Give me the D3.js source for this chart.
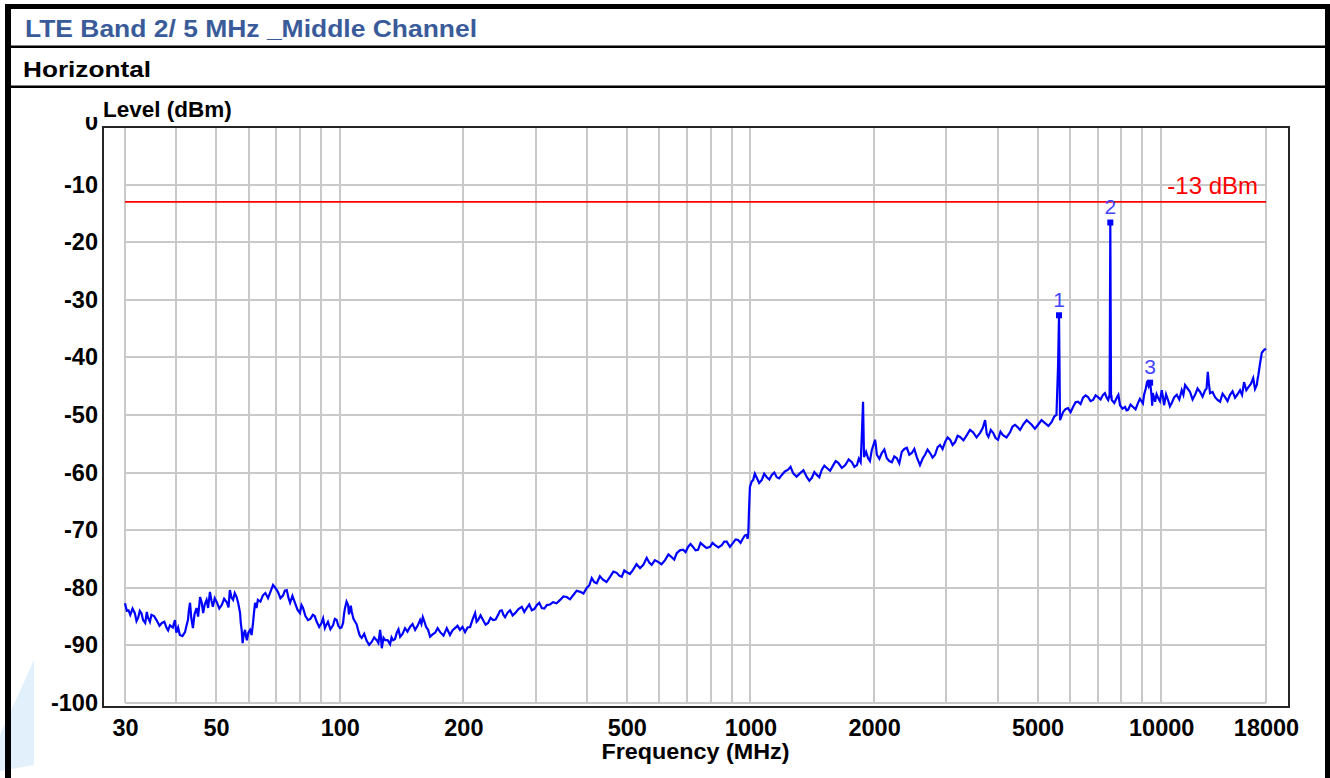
<!DOCTYPE html>
<html>
<head>
<meta charset="utf-8">
<script src="https://cdn.jsdelivr.net/npm/d3@7"></script>
<style>
  body { margin: 0; background: #fff; }
  svg { display: block; }
  text { font-family: "Liberation Sans", Arial, sans-serif; }
</style>
</head>
<body>
<svg id="chart" width="1330" height="778"></svg>
<script>
// header texts
const titleText = 'LTE Band 2/ 5 MHz _Middle Channel';
const subtitleText = 'Horizontal';
const yTitle = 'Level (dBm)';
const xTitle = 'Frequency (MHz)';

// axes
const xTickValues = [30, 50, 100, 200, 500, 1000, 2000, 5000, 10000, 18000];
const xGridValues = [30, 40, 50, 60, 70, 80, 90, 100, 200, 300, 400, 500, 600, 700, 800, 900,
  1000, 2000, 3000, 4000, 5000, 6000, 7000, 8000, 9000, 10000, 18000];
const yTickValues = [0, -10, -20, -30, -40, -50, -60, -70, -80, -90, -100];

// limit line
const limitLevel = -13;
const limitLabel = '-13 dBm';

// markers (harmonics)
const markerFreq = [5640, 7520, 9400];
const markerLevel = [-32.6, -16.5, -44.3];
const markerName = ['1', '2', '3'];

// trace, [MHz, dBm]
const traceLow = [
  [30, -82.7], [30.6, -83.9], [30.9, -84.7], [31.7, -84.4], [32.3, -85.2], [32.9, -84.4], [33.6, -86.1],
  [34.1, -85.1], [34.8, -84.7], [35.8, -85.6], [36.9, -86.1], [37.9, -87.0], [38.6, -86.5], [39.7, -85.6],
  [40.0, -87.8], [40.8, -88.2], [42.0, -87.7], [42.7, -85.6], [43.2, -82.6], [43.9, -87.0], [44.8, -83.5],
  [45.7, -81.6], [46.5, -84.4], [47.4, -82.1], [48.3, -80.7], [49.1, -83.3], [50.2, -82.5], [51.6, -83.0],
  [53.1, -82.5], [54.0, -80.4], [55.0, -82.1], [56.1, -81.6], [57.2, -84.4], [57.7, -87.3], [58.0, -89.6],
  [58.8, -87.3], [59.4, -89.1], [60.5, -87.3], [61.5, -86.1], [62.2, -82.6], [63.2, -82.1], [65.0, -81.3],
  [66.9, -81.8], [68.8, -79.5], [70.7, -80.7], [72.8, -81.3], [74.3, -80.4], [75.7, -82.6], [77.8, -82.6],
  [80.0, -84.4], [81.4, -83.5], [83.7, -85.6], [86.0, -84.7], [87.9, -85.9], [90.3, -86.1], [92.0, -87.0],
  [93.6, -85.9], [96.3, -86.5], [98.3, -85.6]
];
const traceMid = [
  [100.2, -87.0], [101.9, -86.1], [103.0, -83.5], [104.8, -83.0], [105.9, -83.9], [107.0, -84.2],
  [109.0, -85.9], [110.8, -87.3], [113.1, -88.7], [116.3, -89.2], [119.6, -89.4], [123.0, -89.1],
  [125.4, -87.3], [126.6, -90.5], [129.0, -89.1], [132.6, -89.8], [134.9, -89.1], [137.7, -87.8],
  [140.3, -88.5], [144.2, -87.0], [148.3, -86.8], [152.6, -87.3], [156.9, -85.6], [159.3, -85.1],
  [162.3, -86.8], [166.0, -88.5], [170.7, -87.8], [175.6, -87.7], [182.2, -87.0], [185.5, -88.2],
  [190.8, -87.0], [196.2, -87.3], [201.9, -87.7], [207.7, -86.8], [213.6, -84.4], [217.2, -85.6],
  [223.3, -85.6], [229.7, -86.1], [236.2, -85.6], [243.0, -84.7], [248.1, -83.9], [252.7, -85.1],
  [259.9, -83.9], [267.3, -84.4], [277.5, -83.3], [285.4, -83.5], [293.5, -83.9], [301.9, -83.0],
  [310.4, -83.5], [319.3, -83.0], [330.7, -82.5], [344.0, -82.1], [357.1, -81.6], [370.1, -81.3],
  [385.0, -80.7], [399.6, -80.0], [410.7, -78.3], [422.4, -79.2], [437.5, -78.6], [455.1, -78.1],
  [472.5, -77.4], [485.9, -78.1], [500, -77.3], [517.7, -76.9], [538.4, -76.6], [559.0, -74.8],
  [574.9, -76.0], [595.5, -75.5], [619.5, -75.2], [643.2, -74.7], [661.4, -74.0], [685.3, -73.4],
  [704.7, -72.9], [724.8, -72.9], [745.4, -73.4], [766.5, -72.6], [797.3, -72.9], [820, -72.6],
  [851.4, -72.6], [875.5, -72.0], [907, -72.2], [932.9, -71.7], [959.4, -71.4], [979.5, -70.8],
  [988, -70.5], [992, -66.5], [997, -62.5]
];
const traceHigh = [
  [1015, -61.3], [1036, -60.9], [1065, -61.3], [1096, -60.8], [1127, -60.4], [1159, -60.8], [1192, -60.4],
  [1235, -59.5], [1270, -60.1], [1321, -60.1], [1372, -60.8], [1411, -60.9], [1451, -60.4], [1492, -59.5],
  [1535, -59.2], [1591, -58.7], [1636, -58.3], [1702, -58.7], [1766, -58.2], [1817, -58.7], [1855, -58.2],
  [1868, -53.1], [1880, -47.7], [1890, -57.3], [1934, -57.5], [1974, -56.1], [2011, -54.3], [2031, -56.9],
  [2088, -56.6], [2148, -57.5], [2209, -58.2], [2272, -57.5], [2336, -56.4], [2403, -55.7], [2471, -56.6],
  [2541, -57.3], [2587, -58.7], [2661, -56.9], [2737, -56.6], [2815, -56.9], [2895, -55.2], [2978, -54.7],
  [3063, -54.3], [3150, -54.7], [3239, -53.8], [3364, -53.5], [3484, -53.0], [3623, -53.1], [3727, -50.9],
  [3797, -53.8], [3899, -53.1], [4007, -54.3], [4120, -53.5], [4286, -53.0], [4408, -51.7], [4533, -52.6],
  [4706, -50.9], [4840, -51.7], [5014, -51.7], [5215, -51.4], [5414, -51.2], [5560, -50.0], [5610, -41.5],
  [5640, -32.6], [5655, -41.0], [5672, -50.9], [5770, -49.5], [5932, -48.8], [6102, -48.6], [6275, -47.7],
  [6454, -47.0], [6637, -46.9], [6827, -47.4], [7020, -46.9], [7219, -46.5], [7370, -47.0], [7490, -46.5],
  [7505, -32.1], [7520, -16.5], [7535, -32.0], [7550, -47.0], [7580, -47.4], [7796, -47.0], [7941, -48.3],
  [8168, -48.6], [8306, -49.1], [8542, -48.6], [8785, -47.9], [8970, -47.7], [9086, -46.5], [9250, -44.1],
  [9400, -44.3], [9480, -46.8], [9540, -46.2], [9664, -47.7], [9828, -47.0], [10034, -45.7], [10164, -48.3],
  [10394, -47.4], [10612, -47.9], [10914, -46.5], [11223, -45.7], [11434, -44.8], [11759, -46.0],
  [12093, -46.5], [12437, -46.0], [12790, -45.7], [12989, -42.5], [13154, -46.2], [13528, -46.9],
  [13912, -47.7], [14307, -46.9], [14714, -46.5], [15132, -47.0], [15562, -45.7], [15916, -44.3],
  [16327, -45.1], [16753, -43.6], [17096, -44.8], [17244, -43.1], [17413, -41.0], [17581, -39.2],
  [17813, -38.7], [18000, -38.5]
];
// extra sweep points read from the noisy ripple between the points above
const traceRipple = [
  [30.3, -84.0], [31.3, -83.6], [32.0, -85.8], [32.6, -84.0], [33.2, -85.6], [33.9, -84.2], [34.5, -85.9],
  [35.3, -84.9], [36.4, -86.6], [37.4, -85.9], [38.2, -87.4], [39.2, -86.9], [39.9, -87.2], [40.4, -86.9],
  [41.4, -88.4], [42.4, -86.4], [42.9, -84.0], [43.5, -85.2], [44.3, -84.6], [45.2, -85.0], [46.1, -82.5],
  [46.9, -82.9], [47.8, -83.5], [48.7, -82.2], [49.6, -81.8], [50.9, -83.6], [52.3, -81.9], [53.6, -83.4],
  [54.5, -81.7], [55.5, -80.9], [56.6, -82.7], [57.4, -86.0], [58.4, -88.0], [59.1, -88.3], [59.9, -87.8],
  [61.0, -88.2], [61.8, -84.5], [62.7, -83.5], [64.1, -82.4], [65.9, -80.9], [67.8, -80.7], [69.7, -80.0],
  [71.7, -81.8], [73.5, -80.5], [75.0, -81.7], [76.7, -81.4], [78.9, -83.8], [80.7, -83.0], [82.5, -84.9],
  [84.8, -85.4], [86.9, -84.9], [89.1, -86.8], [91.1, -85.3], [92.8, -86.4], [94.9, -87.2], [97.3, -85.4],
  [99.2, -86.6],
  [101.0, -86.9], [102.4, -84.6], [103.9, -82.4], [105.3, -84.6], [106.4, -83.1], [108.0, -85.4],
  [109.9, -86.3], [111.9, -88.3], [114.7, -88.0], [117.9, -89.9], [121.3, -88.6], [124.2, -89.6],
  [125.9, -88.4], [127.8, -88.7], [130.8, -89.1], [133.7, -88.6], [136.3, -88.9], [139.0, -87.2],
  [142.2, -88.0], [146.2, -87.6], [150.4, -86.3], [154.7, -86.6], [158.1, -86.3], [160.8, -85.9],
  [164.1, -87.3], [168.3, -88.1], [173.1, -87.0], [178.9, -88.3], [183.8, -87.6], [188.1, -87.4],
  [193.5, -86.6], [199.0, -86.8], [204.8, -86.9], [210.6, -85.5], [215.4, -85.9], [220.2, -84.8],
  [226.5, -86.4], [232.9, -85.2], [239.6, -85.5], [245.5, -84.0], [250.4, -84.7], [256.3, -84.3],
  [263.6, -84.8], [272.4, -83.7], [281.4, -84.2], [289.4, -82.9], [297.6, -83.7], [306.1, -82.6],
  [314.8, -83.6], [325.0, -82.9], [337.3, -82.7], [350.5, -81.5], [363.5, -82.0], [377.5, -80.5],
  [392.2, -81.0], [405.1, -79.6], [416.5, -79.0], [429.9, -78.0], [446.2, -79.0], [463.7, -77.2],
  [479.1, -77.9], [492.9, -77.0], [508.8, -77.6], [528.0, -75.9], [548.6, -76.0], [566.9, -75.6],
  [585.1, -75.2], [607.4, -75.9], [631.3, -74.2], [652.2, -75.1], [673.3, -73.5], [695.0, -73.8],
  [714.7, -72.4], [735.0, -73.5], [755.9, -72.2], [781.8, -73.1], [808.6, -72.2], [835.6, -73.0],
  [863.4, -72.0], [891.2, -72.9], [920.0, -71.6], [946.1, -72.2], [969.4, -70.9], [984, -71.5],
  [1006, -61.6], [1025, -60.2], [1050, -61.8], [1080, -60.2], [1112, -61.2], [1143, -60.0], [1175, -61.0],
  [1213, -59.8], [1252, -59.0], [1295, -60.7], [1346, -59.6], [1391, -61.4], [1431, -59.9], [1471, -60.8],
  [1513, -58.8], [1563, -59.7], [1613, -58.0], [1669, -59.2], [1734, -57.7], [1791, -59.0], [1836, -57.6],
  [1912, -56.4], [1954, -58.0], [2021, -55.4], [2060, -57.6], [2118, -56.0], [2178, -58.0], [2240, -57.2],
  [2304, -58.4], [2370, -55.9], [2437, -56.9], [2506, -55.9], [2564, -58.0], [2624, -57.6], [2699, -56.0],
  [2776, -57.4], [2855, -55.6], [2936, -55.9], [3020, -53.9], [3106, -55.2], [3194, -53.6], [3301, -54.4],
  [3424, -52.6], [3553, -53.9], [3675, -52.3], [3762, -53.3], [3848, -52.6], [3953, -54.0], [4063, -52.9],
  [4203, -53.9], [4347, -52.0], [4470, -52.1], [4620, -51.6], [4773, -51.3], [4927, -52.4], [5114, -50.9],
  [5315, -51.9], [5487, -50.3], [5720, -50.2], [5850, -49.0], [6017, -49.5], [6188, -47.8], [6364, -48.1],
  [6545, -46.6], [6732, -47.6], [6923, -46.6], [7120, -47.3], [7295, -46.2], [7430, -47.4], [7565, -46.6],
  [7690, -47.9], [7868, -46.5], [8054, -48.9], [8237, -49.2], [8424, -48.2], [8663, -49.0], [8877, -47.2],
  [9028, -48.0], [9168, -45.5], [9325, -45.0], [9440, -45.5], [9510, -48.4], [9602, -46.9], [9746, -46.4],
  [9931, -47.6], [10099, -46.8], [10279, -46.4], [10503, -48.5], [10763, -46.9], [11068, -47.3],
  [11328, -46.5], [11596, -45.4], [11926, -47.3], [12265, -45.4], [12614, -46.8], [12900, -45.4],
  [13071, -44.6], [13341, -46.0], [13720, -47.4], [14109, -46.3], [14510, -47.6], [14923, -45.9],
  [15347, -46.4], [15739, -46.5], [16120, -45.7], [16540, -44.6], [16925, -45.5], [17170, -43.8]
];

const svg = d3.select('#chart');
const W = 1330, H = 778;

// plot frame and scales
const frame = { left: 103, top: 127, right: 1289, bottom: 707 };
const x = d3.scaleLog().domain([30, 18000]).range([125, 1266]);
const y = d3.scaleLinear().domain([-100, 0]).range([703, 127]);

// faint watermark piece bottom-left
svg.append('polygon')
  .attr('points', '34,660 34,765 0,771 0,735')
  .attr('fill', '#e2f0fc');

// outer table borders
svg.append('rect').attr('x', 5).attr('y', 4).attr('width', W - 5).attr('height', 5).attr('fill', '#000');
svg.append('rect').attr('x', 5).attr('y', 4).attr('width', 6).attr('height', H - 4).attr('fill', '#000');
svg.append('rect').attr('x', 1325).attr('y', 4).attr('width', 5).attr('height', H - 4).attr('fill', '#000');
svg.append('rect').attr('x', 11).attr('y', 45.5).attr('width', 1314).attr('height', 2.5).attr('fill', '#000');
svg.append('rect').attr('x', 11).attr('y', 85.5).attr('width', 1314).attr('height', 2.5).attr('fill', '#000');

svg.append('text').attr('x', 25).attr('y', 36.5)
  .attr('font-size', 23).attr('font-weight', 'bold').attr('fill', '#3a5b9a')
  .attr('textLength', 452).attr('lengthAdjust', 'spacingAndGlyphs')
  .text(titleText);
svg.append('text').attr('x', 23).attr('y', 77)
  .attr('font-size', 22).attr('font-weight', 'bold').attr('fill', '#000')
  .attr('textLength', 128).attr('lengthAdjust', 'spacingAndGlyphs')
  .text(subtitleText);

// grid
const grid = svg.append('g').attr('stroke', '#c9c9c9').attr('stroke-width', 2).attr('shape-rendering', 'crispEdges');
grid.selectAll('line.v').data(xGridValues).join('line').attr('class', 'v')
  .attr('x1', d => x(d)).attr('x2', d => x(d)).attr('y1', y(0)).attr('y2', y(-100));
grid.selectAll('line.h').data(yTickValues.filter(v => v !== 0)).join('line').attr('class', 'h')
  .attr('x1', x(30)).attr('x2', x(18000)).attr('y1', d => y(d)).attr('y2', d => y(d));

// frame
svg.append('rect')
  .attr('x', frame.left).attr('y', frame.top)
  .attr('width', frame.right - frame.left).attr('height', frame.bottom - frame.top)
  .attr('fill', 'none').attr('stroke', '#262626').attr('stroke-width', 2);

// y axis labels
const yAxis = svg.append('g').attr('transform', `translate(${frame.left},0)`)
  .call(d3.axisLeft(y).tickValues(yTickValues).tickSize(0).tickPadding(5).tickFormat(d => d));
yAxis.select('.domain').remove();
yAxis.selectAll('text').attr('font-size', 23.5).attr('font-weight', 'bold').attr('fill', '#000')
  .attr('font-family', '"Liberation Sans", Arial, sans-serif');
yAxis.selectAll('.tick').filter(d => d === 0).select('text').attr('dy', '0.1em');

// y title, its white box clips the top of the "0"
svg.append('rect').attr('x', 78).attr('y', 94).attr('width', 165).attr('height', 23).attr('fill', '#fff');
svg.append('text').attr('x', 103).attr('y', 116.5)
  .attr('font-size', 22.5).attr('font-weight', 'bold').attr('fill', '#000')
  .text(yTitle);

// x axis labels
const xAxis = svg.append('g').attr('transform', `translate(0,${frame.bottom})`)
  .call(d3.axisBottom(x).tickValues(xTickValues).tickSize(0).tickPadding(12).tickFormat(d => d));
xAxis.select('.domain').remove();
xAxis.selectAll('text').attr('font-size', 23.5).attr('font-weight', 'bold').attr('fill', '#000')
  .attr('font-family', '"Liberation Sans", Arial, sans-serif');

svg.append('text').attr('x', (x(30) + x(18000)) / 2).attr('y', 759)
  .attr('text-anchor', 'middle').attr('font-size', 22.5).attr('font-weight', 'bold').attr('fill', '#000')
  .attr('textLength', 188).attr('lengthAdjust', 'spacingAndGlyphs')
  .text(xTitle);

// limit line
svg.append('line')
  .attr('x1', x(30)).attr('x2', x(18000)).attr('y1', y(limitLevel)).attr('y2', y(limitLevel))
  .attr('stroke', '#ff0000').attr('stroke-width', 1.6);
svg.append('text').attr('x', 1258).attr('y', y(limitLevel) - 7.5)
  .attr('text-anchor', 'end').attr('font-size', 24).attr('fill', '#ff0000')
  .text(limitLabel);

// trace
const trace = traceLow.concat(traceMid, traceHigh, traceRipple).sort((a, b) => a[0] - b[0]);
const line = d3.line().x(d => x(d[0])).y(d => y(d[1]));
svg.append('path').datum(trace)
  .attr('d', line).attr('fill', 'none')
  .attr('stroke', '#0000ff').attr('stroke-width', 2.2).attr('stroke-linejoin', 'miter');

// markers
const markers = markerFreq.map((f, i) => ({ f, v: markerLevel[i], name: markerName[i] }));
svg.selectAll('rect.mk').data(markers).join('rect').attr('class', 'mk')
  .attr('x', d => x(d.f) - 3).attr('y', d => y(d.v) - 2.5)
  .attr('width', 6).attr('height', 6).attr('fill', '#0000ff');
svg.selectAll('text.mk').data(markers).join('text').attr('class', 'mk')
  .attr('x', d => x(d.f)).attr('y', d => y(d.v) - 8)
  .attr('text-anchor', 'middle').attr('font-size', 21).attr('fill', '#4444ff')
  .text(d => d.name);
</script>
</body>
</html>
